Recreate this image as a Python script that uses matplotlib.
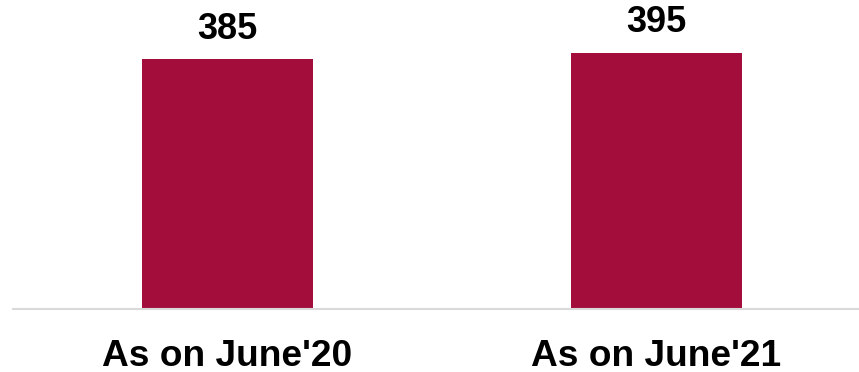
import matplotlib.pyplot as plt

categories = ["As on June'20", "As on June'21"]
values = [385, 395]

plt.rcParams['font.family'] = ['Liberation Sans', 'DejaVu Sans']

fig = plt.figure(figsize=(8.59, 3.72), dpi=100)
ax = fig.add_axes([13 / 859, 63 / 372, 846 / 859, 309 / 372])

x = list(range(len(categories)))
ax.bar(x, values, width=0.4, color='#A30D3B')

ax.set_xlim(-0.5, 1.472)
ax.set_ylim(0, 476)

for i, v in zip(x, values):
    ax.annotate(str(v), xy=(i, v), xytext=(0, 14.5), textcoords='offset points',
                ha='center', va='baseline', fontsize=26, fontweight='bold')
    ax.annotate(categories[i], xy=(i, 0), xycoords=('data', 'axes fraction'),
                xytext=(0, -41), textcoords='offset points',
                ha='center', va='baseline', fontsize=26.7, fontweight='bold')

for s in ['top', 'right', 'left']:
    ax.spines[s].set_visible(False)
ax.spines['bottom'].set_color('#d9d9d9')
ax.spines['bottom'].set_linewidth(1.5)
ax.set_xticks([])
ax.set_yticks([])

fig.savefig('out.png', dpi=100)
